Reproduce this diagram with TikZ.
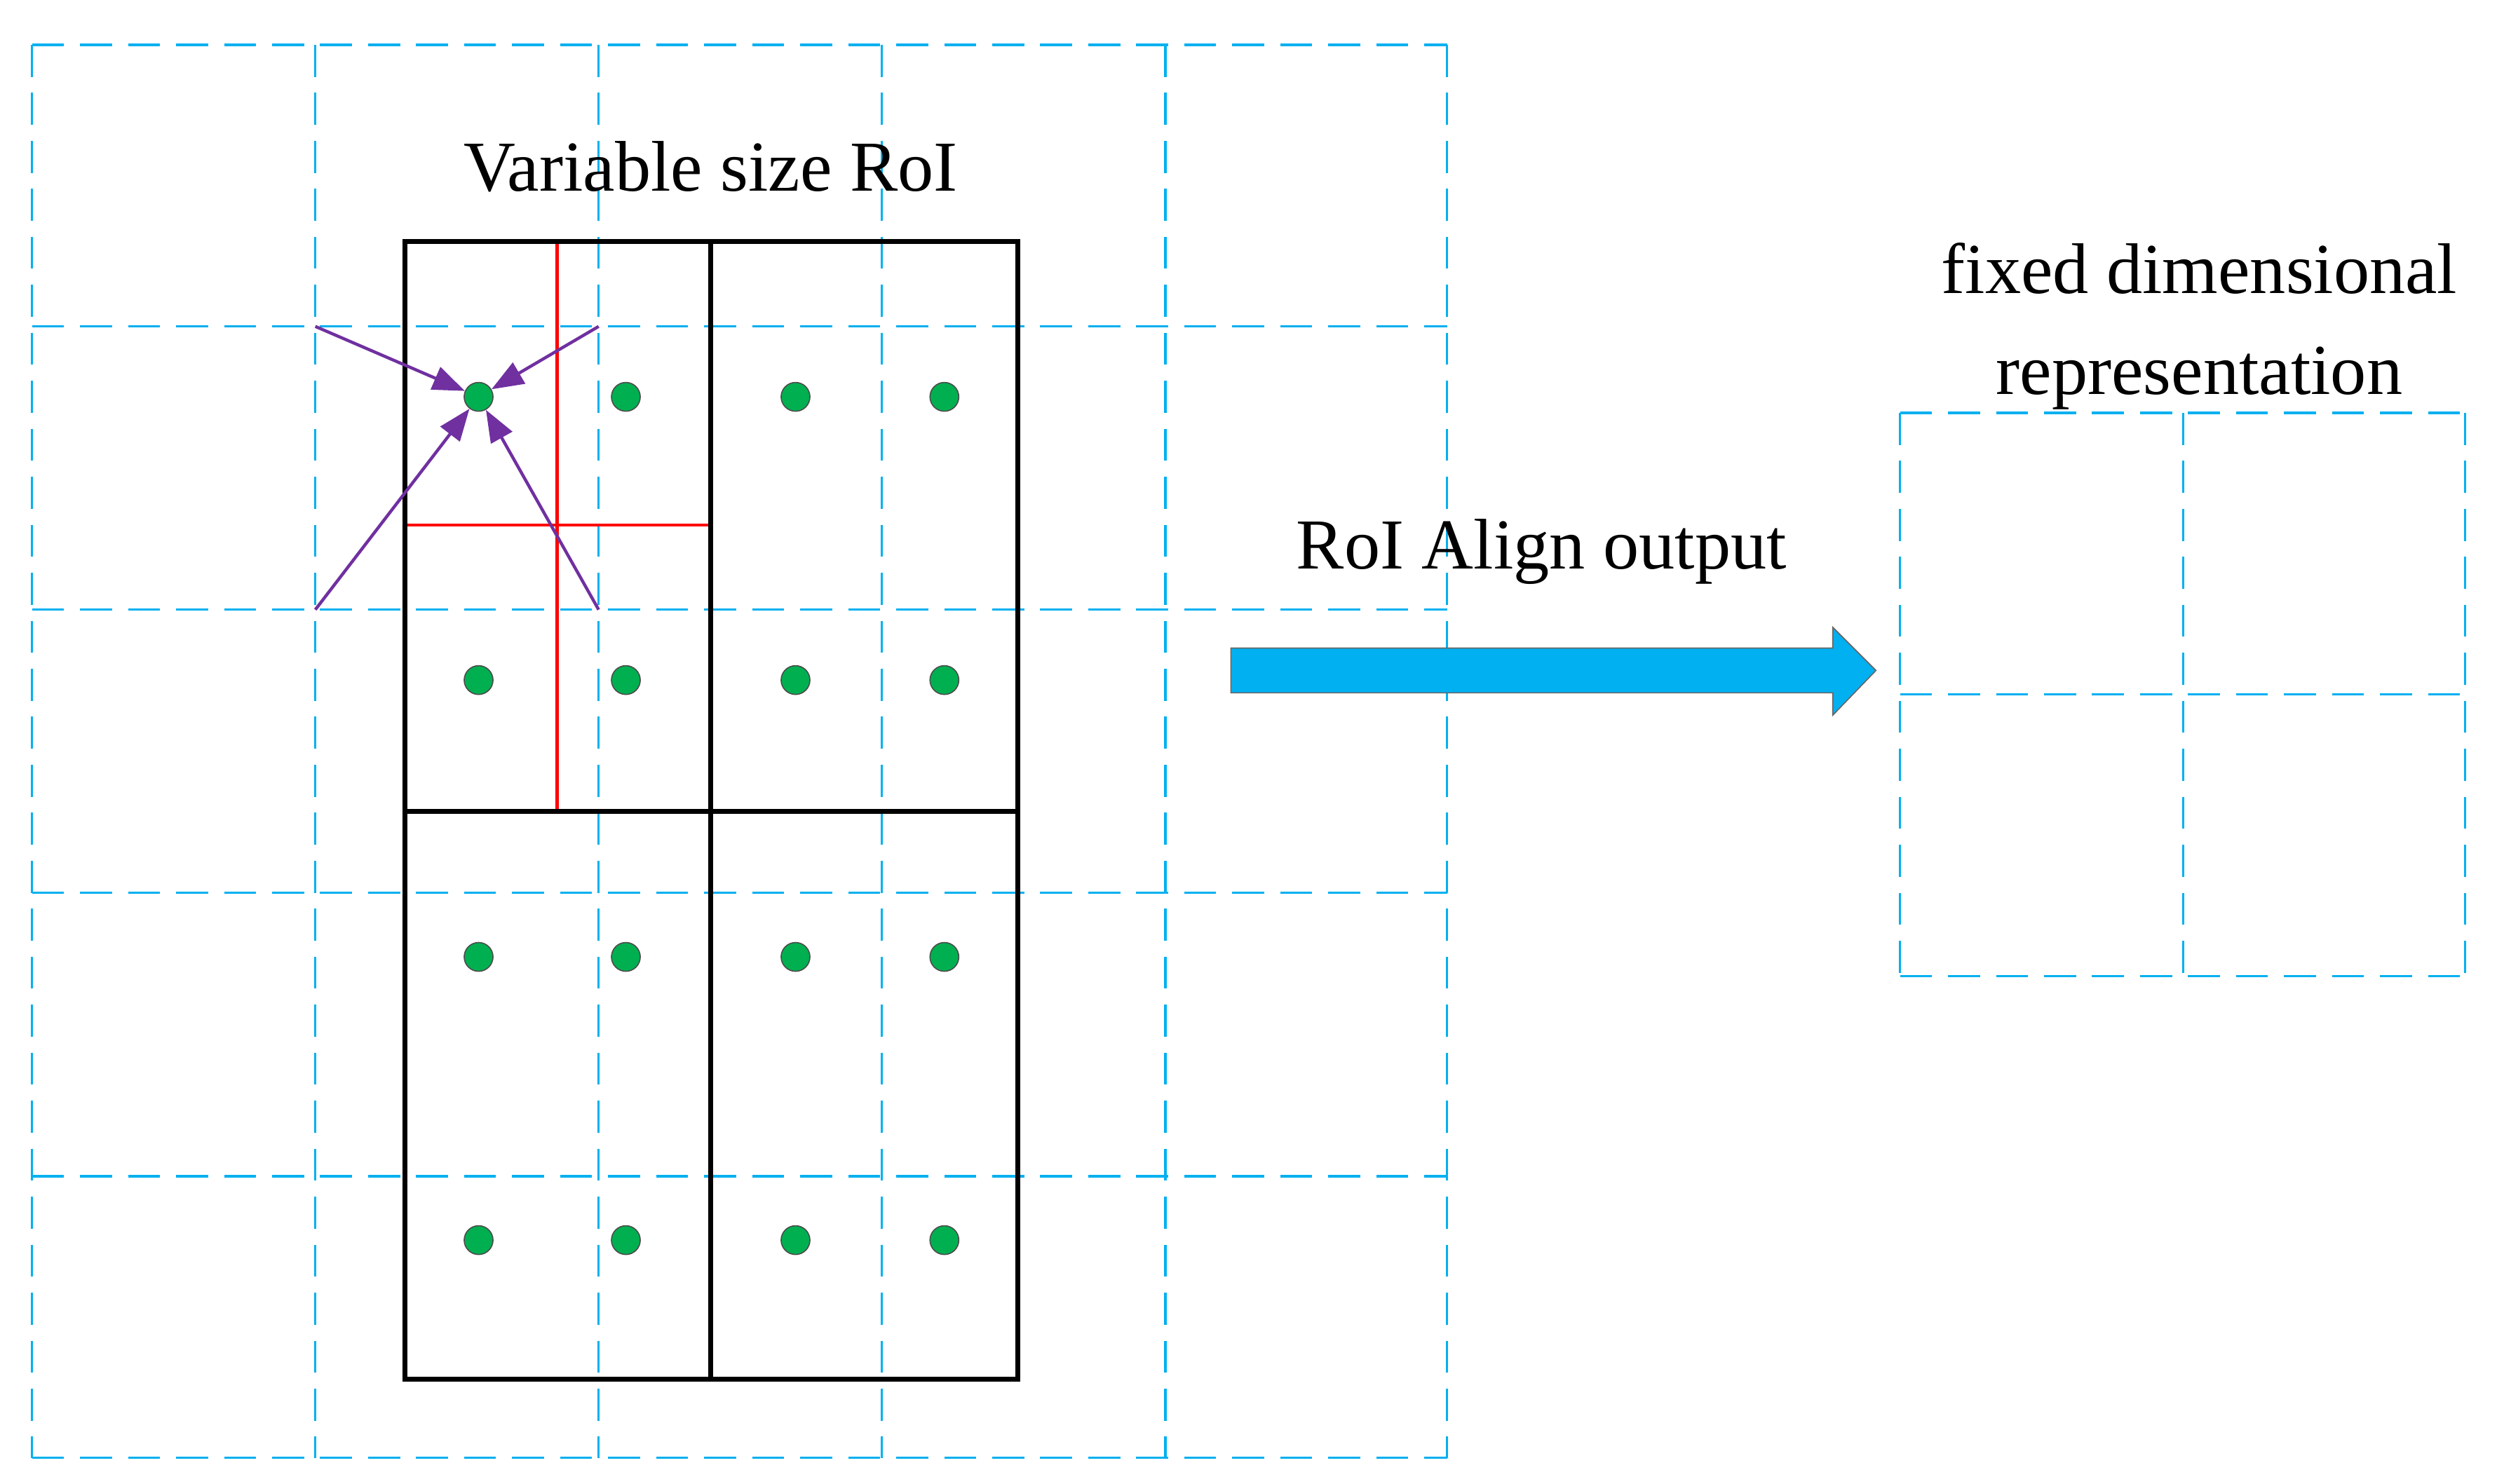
\documentclass[tikz,border=0pt]{standalone}
\usepackage{fontspec}
\setmainfont{Liberation Serif}
\usetikzlibrary{arrows.meta,shapes.arrows}
\definecolor{cy}{RGB}{0,176,240}
\definecolor{gr}{RGB}{0,176,80}
\definecolor{pu}{RGB}{112,48,160}
\begin{document}
\begin{tikzpicture}[x=0.02cm,y=-0.02cm,
  grid/.style={cy,line width=0.85pt,dash pattern=on 0.4cm off 0.2cm},
  roi/.style={black,line width=1.7pt},
  dot/.style={circle,fill=gr,draw=black!70,line width=0.4pt,inner sep=0pt,minimum size=0.36cm},
  pa/.style={pu,line width=1.1pt,-{Triangle[length=0.4cm,width=0.3cm]}},
  lbl/.style={font=\fontsize{25.5}{30}\selectfont,align=center}]
\useasboundingbox (0,0) rectangle (1560,927);
\foreach \x in {20,197,374,551,728,904} \draw[grid] (\x,28) -- (\x,911);
\foreach \y in {28,204,381,558,735,911} \draw[grid] (20,\y) -- (904,\y);
\foreach \x in {1187,1364,1540} \draw[grid] (\x,258) -- (\x,610);
\foreach \y in {258,434,610} \draw[grid] (1187,\y) -- (1540,\y);
\draw[red,line width=1.1pt] (348,151) -- (348,507) (253,328) -- (444,328);
\draw[roi] (253,151) rectangle (636,862);
\draw[roi] (444,151) -- (444,862) (253,507) -- (636,507);
\foreach \x/\i in {299/1,391/2,497/3,590/4}
  \foreach \y/\j in {248/1,425/2,598/3,775/4}
    \node[dot] (d\i\j) at (\x,\y) {};
\coordinate (p1) at (197,204); \coordinate (p2) at (374,204);
\coordinate (p3) at (197,381); \coordinate (p4) at (374,381);
\foreach \p in {p1,p2,p3,p4} \draw[pa] (\p) -- (d11);
\node[lbl] (t1) at (444,104) {Variable size RoI};
\node[lbl] (t2) at (963,345) {RoI Align output};
\node[lbl] (t3) at (1374,204) {fixed dimensional\\[6pt]representation};
\coordinate (a0) at (769,419); \coordinate (a1) at (1172,419);
\fill[cy,draw=black!60,line width=0.4pt] (769,405) -- (1145,405) -- (1145,392) -- (1172,419) -- (1145,447) -- (1145,433) -- (769,433) -- cycle;
\end{tikzpicture}
\end{document}
